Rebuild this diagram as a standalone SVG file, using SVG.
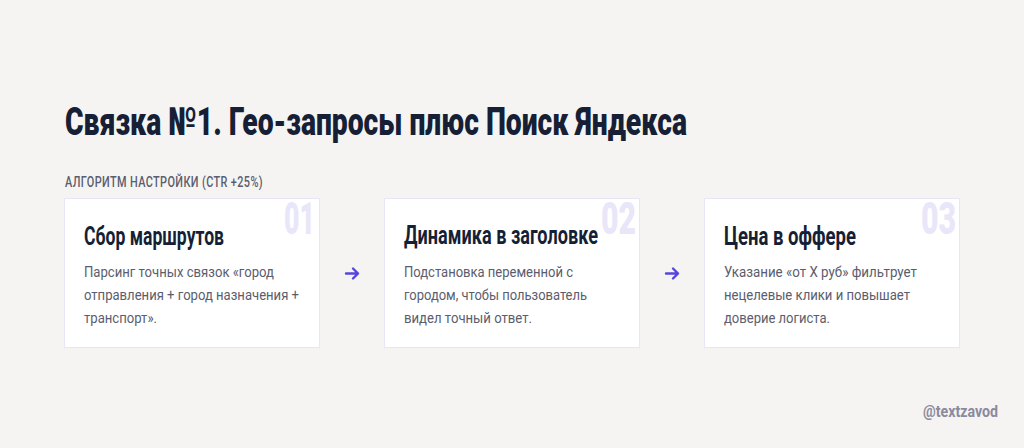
<svg xmlns="http://www.w3.org/2000/svg" width="1024" height="448" viewBox="0 0 1024 448">
<style>
.t{font-family:Roboto,"Liberation Sans",sans-serif}
.title{font-size:39px;font-weight:900;fill:#161f36}
.sub{font-size:14px;font-weight:500;fill:#5a5d6e;letter-spacing:0.5px}
.card{fill:#ffffff;stroke:#e6e6f6;stroke-width:1}
.num{font-size:44px;font-weight:900;fill:#e8e6f8}
.h{font-size:25px;font-weight:700;fill:#161f36}
.b{font-size:15.5px;font-weight:400;fill:#5a5d6e}
.arr{fill:none;stroke:#5546e0;stroke-width:2.4;stroke-linecap:round;stroke-linejoin:round}
.wm{font-size:16px;font-weight:700;fill:#8a8a9e}
</style>
<rect width="1024" height="448" fill="#f5f4f2"/>
<text class="t title" x="65" y="134.5" textLength="622" lengthAdjust="spacingAndGlyphs">Связка №1. Гео-запросы плюс Поиск Яндекса</text>
<text class="t sub" x="65" y="187" textLength="198" lengthAdjust="spacingAndGlyphs">АЛГОРИТМ НАСТРОЙКИ (CTR +25%)</text>
<g id="node1">
<rect class="card" x="64.5" y="198.5" width="255" height="149"/>
<text class="t num" x="315" y="234" text-anchor="end" textLength="31" lengthAdjust="spacingAndGlyphs">01</text>
<text class="t h" x="84" y="245" textLength="140" lengthAdjust="spacingAndGlyphs">Сбор маршрутов</text>
<text class="t b" x="84" y="277" textLength="190" lengthAdjust="spacingAndGlyphs">Парсинг точных связок «город</text>
<text class="t b" x="84" y="300" textLength="215" lengthAdjust="spacingAndGlyphs">отправления + город назначения +</text>
<text class="t b" x="84" y="323" textLength="73" lengthAdjust="spacingAndGlyphs">транспорт».</text>
</g>
<g id="node2">
<rect class="card" x="384.5" y="198.5" width="255" height="149"/>
<text class="t num" x="636" y="234" text-anchor="end" textLength="35" lengthAdjust="spacingAndGlyphs">02</text>
<text class="t h" x="404" y="244" textLength="194" lengthAdjust="spacingAndGlyphs">Динамика в заголовке</text>
<text class="t b" x="404" y="277" textLength="169" lengthAdjust="spacingAndGlyphs">Подстановка переменной с</text>
<text class="t b" x="404" y="300" textLength="183" lengthAdjust="spacingAndGlyphs">городом, чтобы пользователь</text>
<text class="t b" x="404" y="323" textLength="128" lengthAdjust="spacingAndGlyphs">видел точный ответ.</text>
</g>
<g id="node3">
<rect class="card" x="704.5" y="198.5" width="255" height="149"/>
<text class="t num" x="956" y="234" text-anchor="end" textLength="35" lengthAdjust="spacingAndGlyphs">03</text>
<text class="t h" x="724" y="245" textLength="132" lengthAdjust="spacingAndGlyphs">Цена в оффере</text>
<text class="t b" x="724" y="277" textLength="193" lengthAdjust="spacingAndGlyphs">Указание «от X руб» фильтрует</text>
<text class="t b" x="724" y="300" textLength="186" lengthAdjust="spacingAndGlyphs">нецелевые клики и повышает</text>
<text class="t b" x="724" y="323" textLength="106" lengthAdjust="spacingAndGlyphs">доверие логиста.</text>
</g>
<g id="connectors">
<path class="arr" d="M346 273.5H358M353 268.5L358 273.5L353 278.5"/>
<path class="arr" d="M666 273.5H678M673 268.5L678 273.5L673 278.5"/>
</g>
<text class="t wm" x="923" y="417" textLength="75" lengthAdjust="spacingAndGlyphs">@textzavod</text>
</svg>
